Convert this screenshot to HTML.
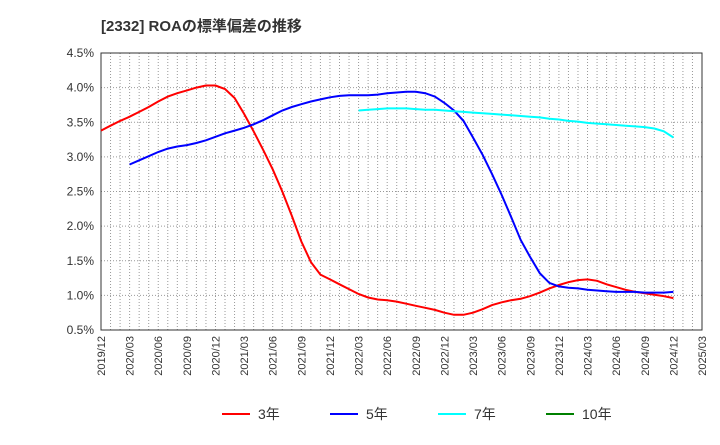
<!DOCTYPE html>
<html><head><meta charset="utf-8"><style>
body{margin:0;background:#fff;font-family:"Liberation Sans","Noto Sans CJK JP",sans-serif;}
</style></head><body>
<svg id="chart" width="720" height="440" xmlns="http://www.w3.org/2000/svg" font-family="Liberation Sans, Noto Sans CJK JP, sans-serif">
<text x="101" y="31" font-size="15" font-weight="bold" fill="#333">[2332]  ROAの標準偏差の推移</text>
<g id="grid"></g><g id="axes"></g><g id="series"></g><g id="legend"></g>
</svg>
<script>
const yTicks=[0.5,1.0,1.5,2.0,2.5,3.0,3.5,4.0,4.5];
const xLabels=["2019/12","2020/03","2020/06","2020/09","2020/12","2021/03","2021/06","2021/09","2021/12","2022/03","2022/06","2022/09","2022/12","2023/03","2023/06","2023/09","2023/12","2024/03","2024/06","2024/09","2024/12","2025/03"];
const red=[3.38,3.45,3.52,3.58,3.65,3.72,3.80,3.87,3.92,3.96,4.00,4.03,4.03,3.98,3.85,3.62,3.37,3.10,2.82,2.50,2.15,1.78,1.48,1.30,1.23,1.16,1.09,1.02,0.97,0.94,0.93,0.91,0.88,0.85,0.82,0.79,0.75,0.72,0.72,0.75,0.80,0.86,0.90,0.93,0.95,0.99,1.04,1.10,1.15,1.19,1.22,1.23,1.21,1.16,1.12,1.08,1.05,1.03,1.01,0.99,0.96];
const blueStart=3;
const blue=[2.89,2.95,3.01,3.07,3.12,3.15,3.17,3.20,3.24,3.29,3.34,3.38,3.42,3.47,3.53,3.60,3.67,3.72,3.76,3.80,3.83,3.86,3.88,3.89,3.89,3.89,3.90,3.92,3.93,3.94,3.94,3.92,3.87,3.78,3.67,3.52,3.28,3.03,2.75,2.45,2.13,1.80,1.55,1.32,1.18,1.13,1.11,1.10,1.08,1.07,1.06,1.05,1.05,1.05,1.04,1.04,1.04,1.05];
const cyanStart=27;
const cyan=[3.67,3.68,3.69,3.70,3.70,3.70,3.69,3.68,3.68,3.67,3.66,3.65,3.64,3.63,3.62,3.61,3.60,3.59,3.58,3.57,3.55,3.54,3.52,3.51,3.49,3.48,3.47,3.46,3.45,3.44,3.43,3.41,3.37,3.28];
const green=[];
const L=101,R=702,T=53,B=330,NM=63;
const x=m=>L+(R-L)*m/NM;
const y=v=>B-(v-0.5)/4*(B-T);
const NS="http://www.w3.org/2000/svg";
function mk(p,t,a){const e=document.createElementNS(NS,t);for(const k in a)e.setAttribute(k,a[k]);p.appendChild(e);return e;}
const grid=document.getElementById('grid'),axes=document.getElementById('axes'),ser=document.getElementById('series'),leg=document.getElementById('legend');
for(let m=1;m<NM;m++){const l=mk(grid,'line',{x1:x(m),x2:x(m),y1:T,y2:B,stroke:'#999','stroke-dasharray':'1,2','stroke-width':1});
}
yTicks.forEach(v=>{const l=mk(grid,'line',{x1:L,x2:R,y1:y(v),y2:y(v),stroke:'#999','stroke-dasharray':'1,2'});

const t=mk(axes,'text',{x:L-7,y:y(v)+4,'text-anchor':'end','font-size':12,fill:'#333'});t.textContent=v.toFixed(1)+'%';
});
const fr=mk(axes,'rect',{x:L,y:T,width:R-L,height:B-T,fill:'none',stroke:'#333'});

xLabels.forEach((s,i)=>{const xx=x(i*3);const t=mk(axes,'text',{x:xx+4,y:B+6,'text-anchor':'end','font-size':11,fill:'#333',transform:`rotate(-90 ${xx+4} ${B+6})`});t.textContent=s;
});
function line(vals,start,col,name){if(!vals.length)return;const d=vals.map((v,i)=>(i?'L':'M')+x(start+i).toFixed(1)+','+y(v).toFixed(1)).join('');
const p=mk(ser,'path',{d,fill:'none',stroke:col,'stroke-width':2});}
line(red,0,'#ff0000','series-3y');line(blue,blueStart,'#0000ff','series-5y');line(cyan,cyanStart,'#00ffff','series-7y');line(green,0,'#008000','series-10y');
[['3年','#ff0000',222],['5年','#0000ff',330],['7年','#00ffff',438],['10年','#008000',546]].forEach(([n,c,lx])=>{
const g=mk(leg,'g',{});
mk(g,'line',{x1:lx,x2:lx+28,y1:414,y2:414,stroke:c,'stroke-width':2});
const t=mk(g,'text',{x:lx+36,y:419,'font-size':14,fill:'#333'});t.textContent=n;});
</script>
</body></html>
